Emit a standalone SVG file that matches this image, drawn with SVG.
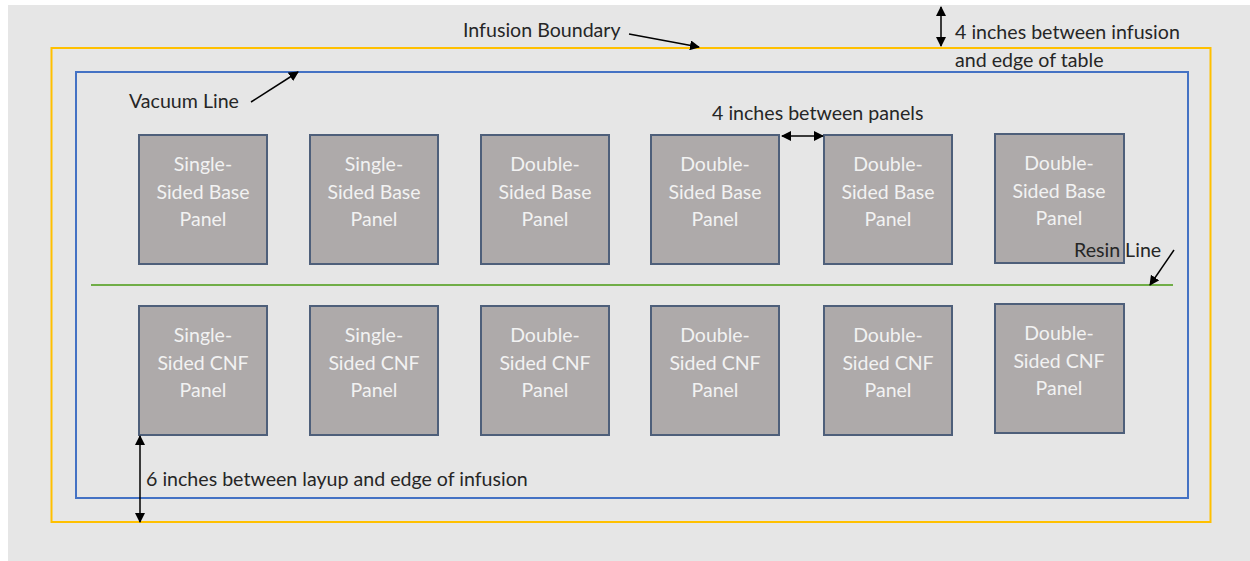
<svg xmlns="http://www.w3.org/2000/svg" width="1250" height="561" viewBox="0 0 1250 561">
<defs>
<style>
.lbl{font-family:Lato,"Open Sans","Liberation Sans",sans-serif;font-size:19.6px;fill:#262626}
.pt{font-family:Lato,"Open Sans","Liberation Sans",sans-serif;font-size:19.5px;fill:#F2F2F2;text-anchor:middle}
.panel{fill:#AEAAAA;stroke:#4E5F7A;stroke-width:2}
.arr{stroke:#000;stroke-width:1.5;fill:none}
</style>
<marker id="ah" viewBox="0 0 10 10" refX="9" refY="5" markerWidth="10" markerHeight="10" markerUnits="userSpaceOnUse" orient="auto-start-reverse">
<path d="M0,0 L10,5 L0,10 z" fill="#000"/>
</marker>
</defs>
<rect x="0" y="0" width="1250" height="561" fill="#FFFFFF"/>
<rect x="8" y="5" width="1242" height="556" fill="#E6E6E6"/>
<g id="infusion-boundary"><rect x="51.5" y="48" width="1159" height="474" fill="none" stroke="#FFC000" stroke-width="2"/></g>
<g id="vacuum-line"><rect x="76" y="72" width="1112" height="426" fill="none" stroke="#4472C4" stroke-width="2"/></g>
<g id="resin-line"><line x1="91" y1="285" x2="1173" y2="285" stroke="#70AD47" stroke-width="2"/></g>

<g id="p1"><rect class="panel" x="139" y="135" width="128" height="129"/><text class="pt" x="203" y="171">Single-</text><text class="pt" x="203" y="199">Sided Base</text><text class="pt" x="203" y="226">Panel</text></g>
<g id="p2"><rect class="panel" x="310" y="135" width="128" height="129"/><text class="pt" x="374" y="171">Single-</text><text class="pt" x="374" y="199">Sided Base</text><text class="pt" x="374" y="226">Panel</text></g>
<g id="p3"><rect class="panel" x="481" y="135" width="128" height="129"/><text class="pt" x="545" y="171">Double-</text><text class="pt" x="545" y="199">Sided Base</text><text class="pt" x="545" y="226">Panel</text></g>
<g id="p4"><rect class="panel" x="651" y="135" width="128" height="129"/><text class="pt" x="715" y="171">Double-</text><text class="pt" x="715" y="199">Sided Base</text><text class="pt" x="715" y="226">Panel</text></g>
<g id="p5"><rect class="panel" x="824" y="135" width="128" height="129"/><text class="pt" x="888" y="171">Double-</text><text class="pt" x="888" y="199">Sided Base</text><text class="pt" x="888" y="226">Panel</text></g>
<g id="p6"><rect class="panel" x="995" y="134" width="129" height="129"/><text class="pt" x="1059" y="170">Double-</text><text class="pt" x="1059" y="198">Sided Base</text><text class="pt" x="1059" y="225">Panel</text></g>

<g id="c1"><rect class="panel" x="139" y="306" width="128" height="129"/><text class="pt" x="203" y="342">Single-</text><text class="pt" x="203" y="370">Sided CNF</text><text class="pt" x="203" y="397">Panel</text></g>
<g id="c2"><rect class="panel" x="310" y="306" width="128" height="129"/><text class="pt" x="374" y="342">Single-</text><text class="pt" x="374" y="370">Sided CNF</text><text class="pt" x="374" y="397">Panel</text></g>
<g id="c3"><rect class="panel" x="481" y="306" width="128" height="129"/><text class="pt" x="545" y="342">Double-</text><text class="pt" x="545" y="370">Sided CNF</text><text class="pt" x="545" y="397">Panel</text></g>
<g id="c4"><rect class="panel" x="651" y="306" width="128" height="129"/><text class="pt" x="715" y="342">Double-</text><text class="pt" x="715" y="370">Sided CNF</text><text class="pt" x="715" y="397">Panel</text></g>
<g id="c5"><rect class="panel" x="824" y="306" width="128" height="129"/><text class="pt" x="888" y="342">Double-</text><text class="pt" x="888" y="370">Sided CNF</text><text class="pt" x="888" y="397">Panel</text></g>
<g id="c6"><rect class="panel" x="995" y="304" width="129" height="129"/><text class="pt" x="1059" y="340">Double-</text><text class="pt" x="1059" y="368">Sided CNF</text><text class="pt" x="1059" y="395">Panel</text></g>

<g id="labels">
<text class="lbl" x="463" y="37">Infusion Boundary</text>
<text class="lbl" x="129" y="108">Vacuum Line</text>
<text class="lbl" x="955" y="39">4 inches between infusion</text>
<text class="lbl" x="955" y="67">and edge of table</text>
<text class="lbl" x="712" y="120">4 inches between panels</text>
<text class="lbl" x="1074" y="257">Resin Line</text>
<text class="lbl" x="146" y="486">6 inches between layup and edge of infusion</text>
</g>

<g id="connectors">
<line class="arr" x1="629" y1="34" x2="699" y2="47" marker-end="url(#ah)"/>
<line class="arr" x1="251" y1="102" x2="298" y2="72" marker-end="url(#ah)"/>
<line class="arr" x1="1174" y1="250" x2="1150" y2="285" marker-end="url(#ah)"/>
<line class="arr" x1="941" y1="7" x2="941" y2="46" marker-start="url(#ah)" marker-end="url(#ah)"/>
<line class="arr" x1="782" y1="136" x2="823" y2="136" marker-start="url(#ah)" marker-end="url(#ah)"/>
<line class="arr" x1="140" y1="436" x2="140" y2="522" marker-start="url(#ah)" marker-end="url(#ah)"/>
</g>
</svg>
